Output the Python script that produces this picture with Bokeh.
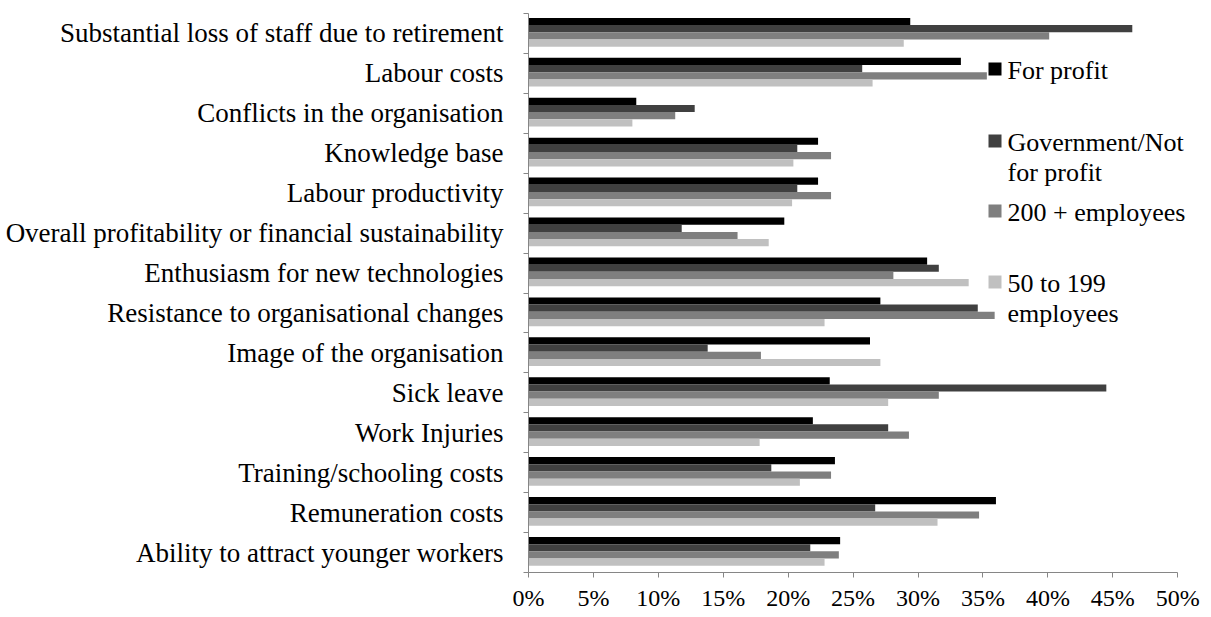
from bokeh.plotting import figure
from bokeh.models import NumeralTickFormatter, FixedTicker, Label, BoxAnnotation, ColumnDataSource
from bokeh.embed import file_html
from bokeh.resources import INLINE

categories = [
    "Substantial loss of staff due to retirement",
    "Labour costs",
    "Conflicts in the organisation",
    "Knowledge base",
    "Labour productivity",
    "Overall profitability or financial sustainability",
    "Enthusiasm for new technologies",
    "Resistance to organisational changes",
    "Image of the organisation",
    "Sick leave",
    "Work Injuries",
    "Training/schooling costs",
    "Remuneration costs",
    "Ability to attract younger workers",
]

# legend text, one list of lines per series
series_lines = [["For profit"], ["Government/Not", "for profit"], ["200 + employees"], ["50 to 199", "employees"]]

for_profit = [29.4, 33.3, 8.3, 22.3, 22.3, 19.7, 30.7, 27.1, 26.3, 23.2, 21.9, 23.6, 36.0, 24.0]
government = [46.5, 25.7, 12.8, 20.7, 20.7, 11.8, 31.6, 34.6, 13.8, 44.5, 27.7, 18.7, 26.7, 21.7]
emp_200 = [40.1, 35.3, 11.3, 23.3, 23.3, 16.1, 28.1, 35.9, 17.9, 31.6, 29.3, 23.3, 34.7, 23.9]
emp_50_199 = [28.9, 26.5, 8.0, 20.4, 20.3, 18.5, 33.9, 22.8, 27.1, 27.7, 17.8, 20.9, 31.5, 22.8]

x_ticks = [0, 0.05, 0.10, 0.15, 0.20, 0.25, 0.30, 0.35, 0.40, 0.45, 0.50]

colors = ["#000000", "#404040", "#7f7f7f", "#c0c0c0"]
FONT = "Liberation Serif"

n = len(categories)
row_pos = [n - 1 - i + 0.5 for i in range(n)]  # first category at top
series = [for_profit, government, emp_200, emp_50_199]

p = figure(
    width=1211, height=617,
    x_range=(0, 0.526), y_range=(0, n),
    output_backend="svg", toolbar_location=None,
    min_border_left=528, min_border_right=0, min_border_top=13, min_border_bottom=45,
)

bar_h = 0.18
shift = 0.03
offsets = [1.5 * bar_h + shift, 0.5 * bar_h + shift, -0.5 * bar_h + shift, -1.5 * bar_h + shift]
for i, vals in enumerate(series):
    src = ColumnDataSource(dict(y=[r + offsets[i] for r in row_pos], right=[v / 100 for v in vals]))
    p.hbar(y="y", right="right", left=0, height=bar_h, source=src,
           fill_color=colors[i], line_color=None)

# legend (screen units, relative to the plot frame; y measured from the frame bottom)
legend_first_y = [502, 430, 360, 289]
line_gap = 30
key_x = 460
key_size = 13
for i in range(4):
    cy = legend_first_y[i] + 1.5
    p.add_layout(BoxAnnotation(
        left=key_x, right=key_x + key_size, bottom=cy - key_size / 2, top=cy + key_size / 2,
        left_units="screen", right_units="screen", bottom_units="screen", top_units="screen",
        fill_color=colors[i], fill_alpha=1.0, line_color=None,
    ))
    for j, line in enumerate(series_lines[i]):
        p.add_layout(Label(
            x=key_x + key_size + 6, y=legend_first_y[i] - j * line_gap, x_units="screen", y_units="screen",
            text=line, text_font=FONT, text_font_size="26px", text_color="#000000",
            text_baseline="middle", text_align="left",
        ))

p.xaxis.ticker = FixedTicker(ticks=x_ticks)
p.xaxis.bounds = (0, 0.5)
p.xaxis.formatter = NumeralTickFormatter(format="0%")
p.xaxis.major_label_text_font = FONT
p.xaxis.major_label_text_font_size = "24px"
p.xaxis.major_label_text_color = "#000000"
p.xaxis.axis_line_color = "#868686"
p.xaxis.major_tick_line_color = "#868686"
p.xaxis.major_tick_in = 0
p.xaxis.major_tick_out = 5
p.xaxis.minor_tick_line_color = None
p.xaxis.major_label_standoff = 7

p.yaxis.ticker = FixedTicker(ticks=row_pos, minor_ticks=list(range(n + 1)))
p.yaxis.major_label_overrides = {row_pos[i]: categories[i] for i in range(n)}
p.yaxis.major_label_text_font = FONT
p.yaxis.major_label_text_font_size = "27px"
p.yaxis.major_label_text_color = "#000000"
p.yaxis.axis_line_color = "#868686"
p.yaxis.major_tick_line_color = None
p.yaxis.major_tick_in = 0
p.yaxis.major_tick_out = 0
p.yaxis.minor_tick_line_color = "#868686"
p.yaxis.minor_tick_in = 0
p.yaxis.minor_tick_out = 5
p.yaxis.major_label_standoff = 20

p.xgrid.grid_line_color = None
p.ygrid.grid_line_color = None
p.outline_line_color = None

open("out.html", "w").write(file_html(p, INLINE))
